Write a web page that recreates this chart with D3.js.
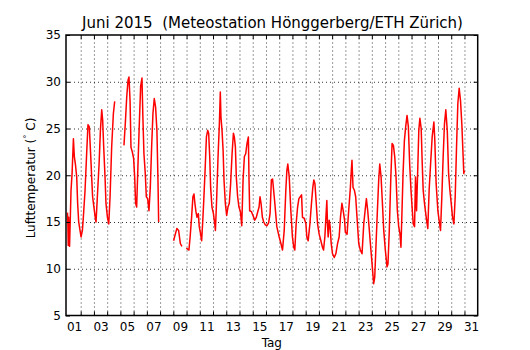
<!DOCTYPE html>
<html>
<head>
<meta charset="utf-8">
<script src="https://cdn.jsdelivr.net/npm/d3@7"></script>
<style>
    body { margin: 0; background: #fff; }
    svg { font-family: "DejaVu Sans", sans-serif; }
    .grid line { stroke: #000; stroke-width: 0.8; stroke-dasharray: 1, 3; }
    .ticks line { stroke: #000; stroke-width: 1; }
    .axis text { font-size: 12px; fill: #000; font-family: "DejaVu Sans", sans-serif; }
</style>
</head>
<body>
<svg width="530" height="350"></svg>
<script>
// Tage seit 1. Juni 00:00 (null = Messlücke)
const tage = [
    0.00, 0.03, 0.06, 0.09, 0.12, 0.16, 0.27, 0.35, 0.45, 0.52, 0.60, 0.70, 0.77, 0.85, 0.95,
    1.03, 1.13, 1.20, 1.33, 1.45, 1.55, 1.65, 1.76, 1.83, 1.90, 2.00, 2.10, 2.16, 2.26, 2.39,
    2.49, 2.59, 2.66, 2.74, 2.84, 2.91, 3.02, 3.12, 3.22, 3.34, 3.47, 3.57, 3.60,
    4.27, 4.37, 4.48, 4.58, 4.65, 4.73, 4.80, 4.90, 5.00, 5.08, 5.15, 5.23, 5.33, 5.43, 5.53,
    5.63, 5.70, 5.78, 5.88, 5.96, 6.06, 6.16, 6.26, 6.36, 6.46, 6.56, 6.66, 6.76, 6.84, 6.89, 6.92,
    8.02, 8.15, 8.27, 8.40, 8.53, 8.65, 8.80,
    8.98, 9.08, 9.18, 9.27, 9.38, 9.48, 9.56, 9.63, 9.71, 9.79, 9.89, 9.96, 10.04, 10.14, 10.22,
    10.29, 10.40, 10.50, 10.60, 10.67, 10.75, 10.82, 10.92, 11.03, 11.13, 11.18, 11.28, 11.38,
    11.48, 11.55, 11.60, 11.68, 11.76, 11.83, 11.93, 12.03, 12.13, 12.23, 12.33, 12.44, 12.54,
    12.61, 12.69, 12.76, 12.86, 12.96, 13.07, 13.17, 13.27, 13.37, 13.47, 13.57, 13.67, 13.72,
    13.77, 13.90, 14.02, 14.15, 14.27, 14.38, 14.48, 14.55, 14.63, 14.73, 14.83, 14.95, 15.08,
    15.20, 15.31, 15.41, 15.50, 15.58, 15.67, 15.82, 16.00, 16.13, 16.25, 16.38, 16.50, 16.58,
    16.65, 16.76, 16.88, 17.00, 17.10, 17.18, 17.28, 17.39, 17.49, 17.59, 17.69, 17.76, 17.89,
    18.02, 18.09, 18.19, 18.32, 18.44, 18.54, 18.62, 18.70, 18.80, 18.90, 19.02, 19.15, 19.27,
    19.35, 19.45, 19.53, 19.60, 19.65, 19.70, 19.78, 19.85, 19.93, 20.03, 20.16, 20.28, 20.41,
    20.53, 20.63, 20.74, 20.84, 20.94, 21.00, 21.13, 21.25, 21.38, 21.45, 21.50, 21.58, 21.68,
    21.78, 21.88, 22.01, 22.13, 22.26, 22.39, 22.49, 22.59, 22.69, 22.79, 22.89, 23.02, 23.14,
    23.22, 23.32, 23.42, 23.52, 23.60, 23.70, 23.80, 23.90, 24.02, 24.15, 24.22, 24.32, 24.43,
    24.53, 24.63, 24.73, 24.83, 24.93, 25.03, 25.13, 25.20, 25.28, 25.36, 25.46, 25.56, 25.66,
    25.76, 25.86, 25.96, 26.06, 26.13, 26.23, 26.30, 26.38, 26.48, 26.55, 26.63, 26.73, 26.81,
    26.88, 26.98, 27.11, 27.23, 27.33, 27.44, 27.56, 27.69, 27.76, 27.86, 27.99, 28.12, 28.19,
    28.29, 28.39, 28.49, 28.59, 28.70, 28.80, 28.90, 29.00, 29.10, 29.20, 29.30, 29.40, 29.50,
    29.60, 29.70, 29.80, 29.88, 29.95, 30.00
];
// Lufttemperatur in °C
const temperatur = [
    16.0, 14.8, 12.5, 15.5, 13.0, 12.4, 18.4, 20.2, 23.9, 22.0, 21.2, 19.8, 17.0, 15.0, 14.1,
    13.4, 14.1, 15.5, 18.4, 22.3, 25.4, 25.2, 22.0, 19.8, 17.7, 16.6, 15.5, 15.0, 17.7, 21.2,
    24.8, 27.0, 25.9, 23.0, 19.8, 17.0, 15.5, 14.8, 17.7, 23.0, 26.6, 27.9, null,
    23.2, 25.5, 28.4, 30.2, 30.5, 28.0, 23.0, 22.5, 21.8, 19.8, 17.0, 16.6, 21.2, 25.5, 29.5,
    30.4, 26.2, 22.3, 20.2, 17.7, 17.5, 16.2, 18.7, 23.0, 26.6, 28.2, 27.3, 24.8, 19.5, 15.0, null,
    13.0, 13.7, 14.3, 14.1, 12.7, 12.4, null,
    12.2, 12.1, 12.0, 13.4, 15.5, 17.7, 18.0, 17.0, 16.1, 15.5, 15.9, 14.5, 13.9, 13.0, 15.0,
    17.0, 20.5, 24.1, 24.8, 24.5, 22.0, 18.7, 16.6, 15.9, 14.8, 14.1, 17.7, 22.0,
    25.5, 28.9, 26.2, 24.8, 22.7, 19.5, 17.0, 15.7, 16.6, 17.0, 19.1, 22.3, 24.5,
    24.1, 23.0, 19.8, 17.7, 16.6, 16.1, 14.6, 19.5, 22.0, 22.3, 23.4, 24.1, 19.5,
    16.2, 16.1, 15.7, 15.2, 15.5, 16.1, 16.6, 17.7, 17.0, 15.5, 15.0, 14.7, 14.6,
    14.9, 15.9, 19.5, 19.6, 18.4, 17.0, 14.5, 13.4, 12.7, 12.0, 14.1, 18.4, 20.5,
    21.2, 19.8, 16.2, 13.4, 12.3, 12.0, 14.8, 16.6, 17.5, 17.7, 17.9, 15.5, 15.4,
    14.8, 13.4, 13.0, 14.8, 17.0, 18.7, 19.5, 19.1, 17.0, 14.8, 13.7, 13.0, 12.3,
    12.0, 13.4, 15.5, 17.3, 14.8, 13.4, 15.2, 14.5, 12.7, 11.6, 11.2, 11.6, 12.7,
    13.4, 15.5, 17.0, 16.2, 15.2, 13.9, 13.7, 16.2, 18.7, 20.5, 21.6, 18.7, 18.4,
    17.7, 15.5, 12.7, 12.0, 11.6, 14.8, 16.2, 17.5, 16.2, 14.5, 12.7, 10.5, 8.4,
    9.1, 12.7, 16.2, 19.5, 21.2, 19.8, 17.0, 14.1, 12.0, 10.2, 10.5, 14.1, 19.5,
    23.4, 23.2, 22.0, 19.8, 16.2, 14.5, 13.7, 12.3, 16.2, 20.2, 23.7, 25.2, 26.4,
    25.2, 21.2, 18.4, 16.2, 14.8, 14.5, 19.8, 16.2, 21.2, 24.8, 26.1, 25.0, 21.2,
    18.4, 17.0, 15.5, 14.3, 18.4, 21.2, 24.1, 25.7, 23.7, 19.1, 16.2, 14.8, 14.1,
    17.7, 22.0, 25.5, 27.0, 24.8, 20.2, 18.4, 17.0, 15.5, 14.8, 17.7, 23.0, 27.7,
    29.3, 28.0, 25.5, 22.7, 20.2, 20.5
];
const yTicks = [5, 10, 15, 20, 25, 30, 35];
const tagLabels = ["01", "03", "05", "07", "09", "11", "13", "15", "17", "19", "21", "23", "25", "27", "29", "31"];

const svg = d3.select("svg");
const plotLeft = 66, plotRight = 477.7, plotTop = 35, plotBottom = 315.5;
const plotHeight = plotBottom - plotTop;

const x = d3.scaleLinear().domain([-0.11, 31.0]).range([plotLeft, plotRight]);
const y = d3.scaleLinear().domain([5, 35]).range([plotBottom, plotTop]);

// Gitter (punktiert)
svg.append("g")
    .attr("class", "grid")
    .attr("transform", `translate(0,${plotBottom})`)
    .call(d3.axisBottom(x).tickValues(d3.range(1, 31)).tickSize(-plotHeight).tickFormat(""))
    .call(g => g.select(".domain").remove());
svg.append("g")
    .attr("class", "grid")
    .attr("transform", `translate(${plotLeft},0)`)
    .call(d3.axisLeft(y).tickValues([10, 15, 20, 25, 30]).tickSize(-(plotRight - plotLeft)).tickFormat(""))
    .call(g => g.select(".domain").remove());

// Messkurve
svg.append("clipPath").attr("id", "clip")
    .append("rect").attr("x", plotLeft).attr("y", plotTop)
    .attr("width", plotRight - plotLeft).attr("height", plotHeight);

const punkte = tage.map((t, i) => ({ t: t, v: temperatur[i] }));
const line = d3.line()
    .defined(d => d.v !== null)
    .x(d => x(d.t))
    .y(d => y(d.v));

svg.append("path")
    .datum(punkte)
    .attr("clip-path", "url(#clip)")
    .attr("fill", "none")
    .attr("stroke", "#ff0000")
    .attr("stroke-width", 1.5)
    .attr("stroke-linejoin", "round")
    .attr("d", line);

// Ticks nach innen, auf allen vier Seiten
const tickDays = d3.range(1, 31);
svg.append("g").attr("class", "ticks").attr("transform", `translate(0,${plotBottom})`)
    .call(d3.axisBottom(x).tickValues(tickDays).tickSize(-4).tickFormat(""))
    .call(g => g.select(".domain").remove());
svg.append("g").attr("class", "ticks").attr("transform", `translate(0,${plotTop})`)
    .call(d3.axisTop(x).tickValues(tickDays).tickSize(-4).tickFormat(""))
    .call(g => g.select(".domain").remove());
svg.append("g").attr("class", "ticks").attr("transform", `translate(${plotRight},0)`)
    .call(d3.axisRight(y).tickValues(yTicks).tickSize(-4).tickFormat(""))
    .call(g => g.select(".domain").remove());

svg.append("g").attr("class", "ticks axis").attr("transform", `translate(${plotLeft},0)`)
    .call(d3.axisLeft(y).tickValues(yTicks).tickSize(-4).tickPadding(5).tickFormat(d3.format("d")))
    .call(g => g.select(".domain").remove());

// Tagesbeschriftung jeweils um 12 Uhr
svg.append("g").attr("class", "axis").attr("transform", `translate(0,${plotBottom})`)
    .call(d3.axisBottom(x)
        .tickValues(tagLabels.map(s => +s - 0.5))
        .tickSize(0)
        .tickPadding(7)
        .tickFormat((d, i) => tagLabels[i]))
    .call(g => g.select(".domain").remove());

// Rahmen
svg.append("rect")
    .attr("x", plotLeft).attr("y", plotTop)
    .attr("width", plotRight - plotLeft).attr("height", plotHeight)
    .attr("fill", "none").attr("stroke", "#000").attr("stroke-width", 1.5);

// Titel und Achsentitel
svg.append("text")
    .attr("x", 272.5).attr("y", 28)
    .attr("text-anchor", "middle")
    .style("font-size", "15px")
    .style("white-space", "pre")
    .text("Juni 2015  (Meteostation Hönggerberg/ETH Zürich)");

svg.append("text")
    .attr("x", (plotLeft + plotRight) / 2).attr("y", 346.5)
    .attr("text-anchor", "middle")
    .style("font-size", "12px")
    .text("Tag");

const ylab = svg.append("text")
    .attr("transform", "translate(35,178) rotate(-90)")
    .attr("text-anchor", "middle")
    .style("font-size", "12px");
ylab.append("tspan").text("Lufttemperatur (");
ylab.append("tspan").attr("dy", -5).style("font-size", "8.5px").text("°");
ylab.append("tspan").attr("dy", 5).text(" C)");
</script>
</body>
</html>
